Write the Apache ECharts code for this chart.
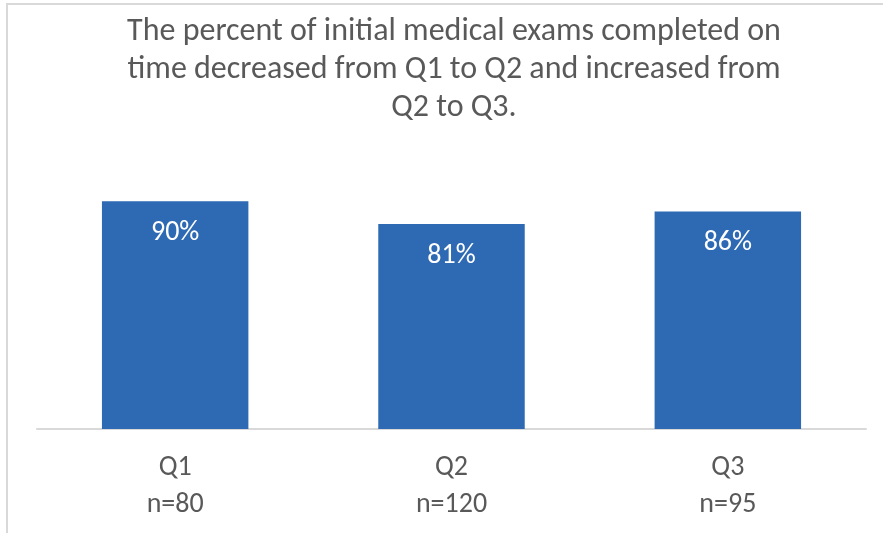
<!DOCTYPE html>
<html>
<head>
<meta charset="utf-8">
<script src="https://cdn.jsdelivr.net/npm/echarts@6/dist/echarts.min.js"></script>
<style>
  body { margin: 0; background: #fff; }
  #chart { width: 883px; height: 533px; position: absolute; left: 0; top: 0; }
  /* thin frame on top and left, like the cropped Excel chart area */
  #frame { position: absolute; left: 6px; top: 3px; width: 877px; height: 530px;
           border-top: 2px solid #d9d9d9; border-left: 2px solid #d9d9d9; pointer-events: none; }
</style>
</head>
<body>
<div id="chart"></div>
<div id="frame"></div>
<script>
const quarters = ['Q1', 'Q2', 'Q3'];
const sampleSizes = [80, 120, 95];
const percentOnTime = [90, 81, 86];

const fontStack = 'Carlito, "Liberation Sans Narrow", "Open Sans", sans-serif';
const chart = echarts.init(document.getElementById('chart'));

chart.setOption({
  animation: false,
  title: {
    text: 'The percent of initial medical exams completed on\ntime decreased from Q1 to Q2 and increased from\nQ2 to Q3.',
    left: 449,
    top: 8,
    textAlign: 'center',
    textStyle: {
      color: '#595959',
      fontSize: 32,
      fontWeight: 'normal',
      lineHeight: 38,
      fontFamily: fontStack
    }
  },
  grid: { left: 37, right: 17, top: 176, bottom: 104 },
  xAxis: {
    type: 'category',
    data: quarters.map((q, i) => q + '\nn=' + sampleSizes[i]),
    axisLine: { lineStyle: { color: '#d9d9d9', width: 2 } },
    axisTick: { show: false },
    axisLabel: {
      color: '#595959',
      fontSize: 28,
      lineHeight: 37,
      margin: 20,
      fontFamily: fontStack
    }
  },
  yAxis: {
    type: 'value',
    min: 0,
    max: 100,
    show: false
  },
  series: [{
    type: 'bar',
    data: percentOnTime,
    barWidth: '53%',
    itemStyle: { color: '#2e69b3' },
    label: {
      show: true,
      position: 'insideTop',
      distance: 18,
      formatter: '{c}%',
      color: '#ffffff',
      fontSize: 28,
      lineHeight: 28,
      fontFamily: fontStack
    }
  }]
});
</script>
</body>
</html>
